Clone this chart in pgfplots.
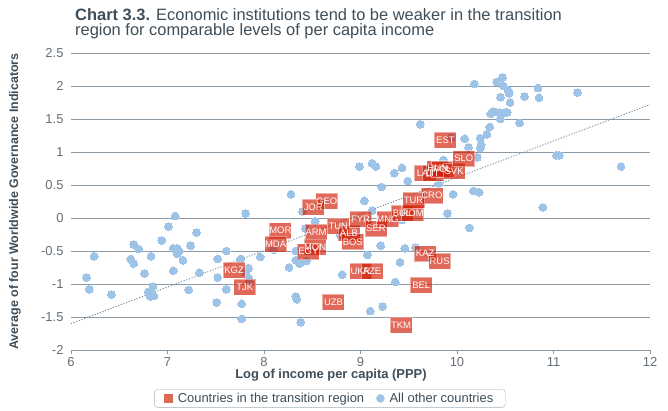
\documentclass[border=0pt]{standalone}
\usepackage{fontspec}
\setmainfont{Liberation Sans}
\usepackage{pgfplots}
\usepackage{pgfplotstable}
\pgfplotsset{compat=1.18}
\definecolor{bluedot}{RGB}{157,195,230}
\definecolor{redbox}{RGB}{207,24,0}
\definecolor{redleg}{RGB}{224,105,86}
\definecolor{gridc}{RGB}{140,155,165}
\definecolor{titlec}{RGB}{62,77,88}
\definecolor{tickc}{RGB}{100,110,118}
\definecolor{trendc}{RGB}{120,140,155}

\pgfplotstableread{
x y
6.16 -0.90
6.19 -1.08
6.24 -0.58
6.42 -1.16
6.62 -0.62
6.65 -0.40
6.70 -0.47
6.65 -0.69
6.76 -0.84
6.83 -0.58
6.80 -1.12
6.85 -1.04
6.82 -1.19
6.86 -1.18
6.94 -0.34
7.01 -0.13
7.08 0.03
7.06 -0.46
7.10 -0.46
7.12 -0.50
7.10 -0.54
7.16 -0.64
7.06 -0.80
7.24 -0.42
7.30 -0.22
7.22 -1.09
7.33 -0.83
7.52 -0.62
7.52 -0.90
7.51 -1.28
7.61 -0.50
7.61 -1.08
7.81 0.07
7.76 -0.62
7.84 -0.76
7.81 -0.83
7.84 -0.91
7.85 -0.96
7.77 -1.30
7.77 -1.53
7.96 -0.59
8.10 -0.48
8.26 -0.75
8.28 0.36
8.33 -1.19
8.34 -1.23
8.38 -1.58
8.33 -0.64
8.37 -0.69
8.44 -0.65
8.33 -0.50
8.40 0.10
8.53 -0.05
8.43 -0.16
8.79 -0.26
8.81 -0.86
8.99 0.78
9.12 0.83
9.16 0.78
9.04 0.26
9.12 0.11
9.07 -0.56
9.10 -1.41
9.23 -1.34
9.21 -0.42
9.22 0.47
9.35 0.68
9.43 0.76
9.49 0.56
9.36 -0.97
9.41 -0.67
9.46 -0.46
9.57 -0.45
9.43 -0.03
9.62 1.42
9.90 0.07
9.96 0.36
10.17 0.41
10.23 0.39
10.13 -0.15
9.86 0.88
9.81 0.52
9.94 1.22
10.21 0.92
10.08 1.20
10.12 1.07
10.24 1.21
10.25 1.11
10.24 1.06
10.31 1.27
10.34 1.38
10.38 1.61
10.35 1.58
10.44 1.60
10.50 1.60
10.52 1.60
10.45 1.50
10.65 1.44
10.45 1.83
10.55 1.75
10.53 1.93
10.54 1.89
10.48 2.00
10.47 2.13
10.41 2.06
10.18 2.03
10.70 1.84
10.84 1.97
10.85 1.82
11.25 1.90
11.03 0.95
11.06 0.95
11.70 0.78
10.89 0.16
}\others

\pgfplotstableread{
x y label
8.65 0.26 GEO
8.51 0.16 JOR
8.17 -0.19 MOR
8.12 -0.40 MDA
8.54 -0.21 ARM
8.53 -0.44 MON
8.46 -0.51 EGY
8.77 -0.12 TUN
8.88 -0.23 ALB
8.92 -0.36 BOS
9.00 -0.02 FYR
9.16 -0.16 SER
9.28 -0.02 MNG
9.43 0.07 BUL
9.54 0.07 ROM
9.74 0.34 CRO
9.55 0.27 TUR
9.67 0.68 LAT
9.75 0.68 LIT
9.80 0.75 HUN
9.85 0.74 POL
9.97 0.71 SVK
10.07 0.90 SLO
9.88 1.18 EST
9.67 -0.54 KAZ
9.82 -0.65 RUS
9.00 -0.80 UKR
9.12 -0.80 AZE
9.63 -1.02 BEL
8.72 -1.27 UZB
9.42 -1.62 TKM
7.69 -0.79 KGZ
7.80 -1.05 TJK
}\transition

\begin{document}
\begin{tikzpicture}
\path[use as bounding box] (-71bp,-61bp) rectangle (597bp,350bp);
\begin{axis}[
  at={(0,0)}, anchor=south west,
  scale only axis, width=579bp, height=297bp,
  xmin=6, xmax=12, ymin=-2, ymax=2.5,
  xtick={6,7,8,9,10,11,12},
  ytick={-2,-1.5,-1,-0.5,0,0.5,1,1.5,2,2.5},
  axis x line*=bottom, axis y line*=left,
  y axis line style={draw=none},
  x axis line style={gridc, line width=0.9bp},
  ytick style={draw=none},
  xtick style={gridc, line width=0.9bp},
  tick align=outside, major tick length=4bp,
  ymajorgrids, grid style={gridc, line width=0.9bp},
  /pgf/number format/assume math mode=true,
  tick label style={font=\fontsize{13}{15}\selectfont, text=tickc},
  xlabel={Log of income per capita (PPP)},
  ylabel={Average of four Worldwide Governance Indicators},
  xlabel style={at={(axis description cs:0.449,-0.084)}, anchor=center, font=\bfseries\fontsize{13}{15}\selectfont, text=titlec},
  ylabel style={at={(axis description cs:-0.0967,0.5)}, anchor=center, font=\bfseries\fontsize{12.5}{14}\selectfont, text=titlec},
  legend style={at={(axis description cs:0.447,-0.163)}, anchor=center, draw=gridc!80, rounded corners=3bp,
    font=\fontsize{13}{15}\selectfont, text=titlec, inner xsep=10bp, inner ysep=1.5bp,
    /tikz/every even column/.append style={column sep=10bp}},
  legend columns=2,
  clip=false,
]
\addlegendimage{legend image code/.code={\fill[redleg, sharp corners] (0bp,-4bp) rectangle (8bp,4bp); \path (11bp,0bp);}}
\addlegendentry{Countries in the transition region}
\addlegendimage{legend image code/.code={\fill[bluedot] (4bp,0bp) circle (4bp); \path (11bp,0bp);}}
\addlegendentry{All other countries}

\addplot[forget plot, color=bluedot, only marks, mark=*, mark size=3.9bp, mark options={fill=bluedot, draw=bluedot, line width=0pt}] table[x=x,y=y]{\others};

% boxes first
\addplot[forget plot, draw=none, mark=none, nodes near coords={}, point meta=explicit symbolic,
  every node near coord/.style={anchor=center, fill=redbox, fill opacity=0.65,
    draw=white, draw opacity=0.45, line width=0.6bp, minimum width=22bp, minimum height=16bp,
    inner sep=0pt}]
  table[x=x,y=y,meta=label]{\transition};
% labels on top
\addplot[forget plot, draw=none, mark=none, nodes near coords, point meta=explicit symbolic,
  every node near coord/.style={anchor=center, inner sep=0pt, font=\fontsize{9.5}{10}\selectfont, text=white}]
  table[x=x,y=y,meta=label]{\transition};

\addplot[forget plot, trendc, line width=0.9bp, dash pattern=on 1.2bp off 1.6bp] coordinates {(6,-1.60) (12,1.72)};
\end{axis}
\node[anchor=north west, align=left, font=\fontsize{16.5}{15.7}\selectfont, text=titlec, inner sep=0pt] at (4bp,342bp)
  {\textbf{Chart 3.3.} Economic institutions tend to be weaker in the transition\\region for comparable levels of per capita income};
\end{tikzpicture}
\end{document}
